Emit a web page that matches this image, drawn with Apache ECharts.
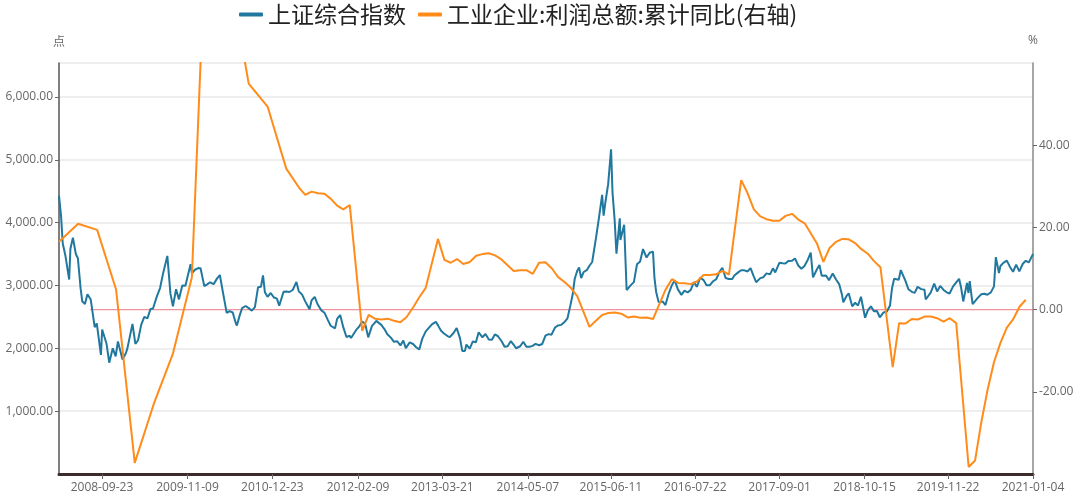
<!DOCTYPE html>
<html><head><meta charset="utf-8">
<script src="https://cdn.jsdelivr.net/npm/echarts@6/dist/echarts.min.js"></script>
<style>html,body{margin:0;padding:0;background:#fff}#c{width:1080px;height:499px}</style>
</head><body><div id="c"></div>
<script>
// 上证综合指数 (semi-monthly readings)
const indexDates = [
'2008-02-29','2008-03-10','2008-03-18','2008-03-31','2008-04-08','2008-04-18','2008-04-24','2008-05-06','2008-05-20','2008-05-30','2008-06-12','2008-06-20','2008-07-03','2008-07-15','2008-07-31','2008-08-19','2008-08-29','2008-09-18','2008-09-24','2008-10-15','2008-10-28','2008-11-14','2008-11-28','2008-12-09','2008-12-31',
'2009-01-15','2009-01-23','2009-02-17','2009-03-03','2009-03-16','2009-03-31','2009-04-15','2009-04-30','2009-05-15','2009-05-27','2009-06-15','2009-06-30','2009-07-15','2009-08-04','2009-08-19','2009-08-31','2009-09-15','2009-09-29','2009-10-15','2009-10-30','2009-11-24','2009-11-30','2009-12-15','2009-12-31',
'2010-01-11','2010-01-29','2010-02-12','2010-02-26','2010-03-15','2010-03-31','2010-04-14','2010-04-30','2010-05-17','2010-05-31','2010-06-15','2010-06-30','2010-07-05','2010-07-19','2010-07-30','2010-08-16','2010-08-31','2010-09-15','2010-09-30','2010-10-15','2010-10-29','2010-11-08','2010-11-17','2010-11-30','2010-12-15','2010-12-31',
'2011-01-14','2011-01-25','2011-02-15','2011-02-28','2011-03-15','2011-03-31','2011-04-18','2011-04-29','2011-05-16','2011-05-31','2011-06-20','2011-06-30','2011-07-15','2011-07-29','2011-08-15','2011-08-31','2011-09-15','2011-09-30','2011-10-21','2011-10-31','2011-11-15','2011-11-30','2011-12-15','2011-12-30',
'2012-01-06','2012-01-31','2012-02-15','2012-02-29','2012-03-14','2012-03-29','2012-04-16','2012-04-27','2012-05-07','2012-05-31','2012-06-15','2012-06-29','2012-07-16','2012-07-31','2012-08-15','2012-08-31','2012-09-14','2012-09-26','2012-10-15','2012-10-31','2012-11-15','2012-11-30','2012-12-04','2012-12-14','2012-12-31',
'2013-01-15','2013-01-31','2013-02-18','2013-02-28','2013-03-15','2013-03-29','2013-04-15','2013-04-26','2013-05-15','2013-05-29','2013-06-14','2013-06-25','2013-07-08','2013-07-15','2013-07-31','2013-08-15','2013-08-30','2013-09-12','2013-09-30','2013-10-15','2013-10-31','2013-11-15','2013-11-29','2013-12-13','2013-12-31',
'2014-01-15','2014-01-30','2014-02-14','2014-02-28','2014-03-11','2014-03-31','2014-04-15','2014-04-30','2014-05-15','2014-05-30','2014-06-13','2014-06-30','2014-07-15','2014-07-31','2014-08-15','2014-08-29','2014-09-15','2014-09-30','2014-10-15','2014-10-31','2014-11-14','2014-11-28','2014-12-09','2014-12-19','2014-12-31',
'2015-01-09','2015-01-19','2015-01-30','2015-02-16','2015-02-27','2015-03-13','2015-03-31','2015-04-15','2015-04-30','2015-05-07','2015-05-15','2015-05-29','2015-06-12','2015-06-19','2015-06-29','2015-07-08','2015-07-24','2015-07-27','2015-08-14','2015-08-26','2015-09-15','2015-09-30','2015-10-15','2015-10-30','2015-11-13','2015-11-30','2015-12-15','2015-12-31',
'2016-01-07','2016-01-15','2016-01-27','2016-02-15','2016-02-29','2016-03-15','2016-03-31','2016-04-14','2016-04-29','2016-05-16','2016-05-31','2016-06-15','2016-06-30','2016-07-15','2016-07-29','2016-08-15','2016-08-31','2016-09-14','2016-09-30','2016-10-14','2016-10-31','2016-11-14','2016-11-29','2016-12-15','2016-12-30',
'2017-01-16','2017-01-26','2017-02-15','2017-02-28','2017-03-15','2017-03-31','2017-04-14','2017-04-28','2017-05-11','2017-05-31','2017-06-15','2017-06-30','2017-07-17','2017-07-31','2017-08-11','2017-08-31','2017-09-15','2017-09-29','2017-10-13','2017-10-31','2017-11-14','2017-11-30','2017-12-15','2017-12-29',
'2018-01-15','2018-01-29','2018-02-09','2018-02-28','2018-03-12','2018-03-23','2018-04-13','2018-04-27','2018-05-15','2018-05-31','2018-06-15','2018-06-29','2018-07-05','2018-07-20','2018-07-31','2018-08-17','2018-08-31','2018-09-14','2018-09-28','2018-10-18','2018-10-31','2018-11-15','2018-11-30','2018-12-14','2018-12-28',
'2019-01-03','2019-01-15','2019-01-31','2019-02-15','2019-02-25','2019-03-07','2019-03-29','2019-04-08','2019-04-30','2019-05-15','2019-05-31','2019-06-14','2019-06-28','2019-07-15','2019-07-31','2019-08-06','2019-08-30','2019-09-16','2019-09-30','2019-10-15','2019-10-31','2019-11-15','2019-11-29','2019-12-16','2019-12-31',
'2020-01-14','2020-01-23','2020-02-03','2020-02-21','2020-02-28','2020-03-05','2020-03-19','2020-03-31','2020-04-15','2020-04-30','2020-05-15','2020-05-29','2020-06-15','2020-06-30','2020-07-09','2020-07-24','2020-07-31','2020-08-14','2020-08-31','2020-09-15','2020-09-30','2020-10-15','2020-10-30','2020-11-16','2020-11-30','2020-12-15','2020-12-31','2021-01-04'
];
const indexValues = [
4430,4100,3668,3472,3500,3094,3583,3761,3500,3433,2957,2748,2705,2860,2776,2336,2397,1895,2300,2073,1771,2000,1871,2110,1821,
1913,1991,2389,2071,2128,2373,2500,2477,2626,2633,2830,2959,3200,3471,2870,2667,2940,2779,3000,2996,3338,3195,3250,3277,
3273,2989,3018,3051,3020,3109,3166,2871,2564,2593,2570,2398,2363,2528,2638,2673,2639,2600,2656,2971,2979,3159,2894,2820,2880,2808,
2791,2677,2900,2905,2896,2928,3057,2911,2850,2743,2621,2762,2820,2701,2608,2567,2460,2359,2317,2468,2530,2333,2180,2199,
2163,2292,2350,2428,2391,2174,2357,2396,2437,2373,2306,2225,2170,2103,2113,2047,2123,2004,2094,2069,2018,1980,1959,2150,2269,
2325,2385,2421,2365,2278,2236,2195,2177,2248,2324,2162,1959,1959,2060,1994,2109,2098,2256,2175,2227,2141,2135,2220,2196,2116,
2026,2033,2115,2056,2001,2033,2105,2026,2025,2039,2070,2048,2068,2202,2226,2217,2331,2364,2373,2420,2478,2683,2856,3108,3235,
3285,3116,3210,3247,3310,3373,3748,4084,4442,4112,4308,4612,5166,4478,4053,3507,4070,3725,3965,2927,3005,3053,3338,3383,3580,3445,3520,3539,
3125,2901,2735,2746,2688,2864,3004,3082,2938,2850,2917,2888,2930,3054,2979,3125,3085,3002,3005,3063,3100,3210,3282,3118,3104,
3103,3159,3212,3242,3241,3223,3276,3155,3052,3117,3132,3192,3176,3273,3208,3361,3353,3349,3391,3393,3430,3317,3266,3307,
3410,3523,3129,3259,3326,3153,3159,3082,3192,3095,3022,2847,2733,2829,2876,2669,2725,2682,2821,2486,2603,2668,2588,2594,2494,
2464,2571,2585,2682,2961,3106,3091,3245,3078,2939,2899,2882,2979,2942,2933,2777,2886,3031,2905,2992,2929,2891,2872,2985,3050,
3106,2977,2746,3039,2880,3071,2702,2750,2811,2860,2868,2852,2890,2985,3451,3197,3310,3360,3396,3295,3218,3332,3225,3346,3392,3367,3473,3502
];
// 工业企业:利润总额:累计同比 (%)
const profitDates = [
'2008-02-29','2008-05-31','2008-08-31','2008-11-30','2009-02-28','2009-05-31','2009-08-31','2009-11-30','2010-02-28','2010-05-31','2010-08-31','2010-11-30',
'2011-02-28','2011-04-30','2011-05-31','2011-06-30','2011-07-31','2011-08-31','2011-09-30','2011-10-31','2011-11-30','2011-12-31',
'2012-02-29','2012-03-31','2012-04-30','2012-05-31','2012-06-30','2012-07-31','2012-08-31','2012-09-30','2012-10-31','2012-11-30','2012-12-31',
'2013-02-28','2013-03-31','2013-04-30','2013-05-31','2013-06-30','2013-07-31','2013-08-31','2013-09-30','2013-10-31','2013-11-30','2013-12-31',
'2014-02-28','2014-03-31','2014-04-30','2014-05-31','2014-06-30','2014-07-31','2014-08-31','2014-09-30','2014-10-31','2014-11-30','2014-12-31',
'2015-02-28','2015-03-31','2015-04-30','2015-05-31','2015-06-30','2015-07-31','2015-08-31','2015-09-30','2015-10-31','2015-11-30','2015-12-31',
'2016-02-29','2016-03-31','2016-04-30','2016-05-31','2016-06-30','2016-07-31','2016-08-31','2016-09-30','2016-10-31','2016-11-30','2016-12-31',
'2017-02-28','2017-03-31','2017-04-30','2017-05-31','2017-06-30','2017-07-31','2017-08-31','2017-09-30','2017-10-31','2017-11-30','2017-12-31',
'2018-02-28','2018-03-31','2018-04-30','2018-05-31','2018-06-30','2018-07-31','2018-08-31','2018-09-30','2018-10-31','2018-11-30','2018-12-31',
'2019-02-28','2019-03-31','2019-04-30','2019-05-31','2019-06-30','2019-07-31','2019-08-31','2019-09-30','2019-10-31','2019-11-30','2019-12-31',
'2020-02-29','2020-03-31','2020-04-30','2020-05-31','2020-06-30','2020-07-31','2020-08-31','2020-09-30','2020-10-31','2020-11-30'
];
const profitValues = [
16.5,20.9,19.4,4.9,-37.3,-22.9,-10.7,7.8,119.7,81.6,55.0,49.4,
34.3,29.7,27.9,28.7,28.3,28.2,27.0,25.3,24.4,25.4,
-5.2,-1.3,-2.2,-2.4,-2.2,-2.7,-3.1,-1.8,0.5,3.0,5.3,
17.2,12.1,11.4,12.3,11.1,11.6,13.1,13.5,13.7,13.2,12.2,
9.4,9.6,9.6,8.7,11.4,11.5,10.0,7.9,6.7,5.3,3.3,
-4.2,-2.7,-1.3,-0.8,-0.7,-1.0,-1.9,-1.7,-2.0,-1.9,-2.3,
4.8,7.4,6.5,6.4,6.2,6.9,8.4,8.4,8.6,9.4,8.5,
31.5,28.3,24.4,22.7,22.0,21.6,21.6,22.8,23.3,21.9,21.0,
16.1,11.6,15.0,16.5,17.2,17.1,16.2,14.7,13.6,11.8,10.3,
-14.0,-3.3,-3.4,-2.3,-2.4,-1.7,-1.7,-2.1,-2.9,-2.1,-3.3,
-38.3,-36.7,-27.4,-19.3,-12.8,-8.1,-4.4,-2.4,0.7,2.4
];
const xTickLabels = ['2008-09-23','2009-11-09','2010-12-23','2012-02-09','2013-03-21','2014-05-07','2015-06-11','2016-07-22','2017-09-01','2018-10-15','2019-11-22','2021-01-04'];
const seriesNames = ['上证综合指数','工业企业:利润总额:累计同比(右轴)'];
const zeroLineDates = ['2008-07-28','2021-01-04'];
const zeroLineValues = [0,0];

function ts(s){const p=s.split('-');return Date.UTC(+p[0],+p[1]-1,+p[2]);}
function fmt(v){const d=new Date(v);const p=n=>(n<10?'0':'')+n;return d.getUTCFullYear()+'-'+p(d.getUTCMonth()+1)+'-'+p(d.getUTCDate());}
const tickTs = xTickLabels.map(ts);

const chart = echarts.init(document.getElementById('c'));
chart.setOption({
  animation:false,
  backgroundColor:'#fff',
  color:['#21789f','#ff8c1a','#ec6f7c'],
  legend:{
    top:-2,left:234,itemWidth:24,itemHeight:4,itemGap:12,icon:'roundRect',
    textStyle:{fontSize:23,color:'#222',fontFamily:'Noto Sans CJK SC'},
    data:seriesNames
  },
  grid:{left:59,right:47,top:63,bottom:25},
  xAxis:{
    type:'value',min:ts('2008-02-29'),max:ts('2021-01-04'),
    axisLine:{onZero:false,lineStyle:{color:'#3b2b2b',width:3}},
    axisTick:{show:true,customValues:tickTs,length:5,lineStyle:{color:'#666'}},
    axisLabel:{customValues:tickTs,color:'#666',fontSize:12,fontFamily:'Open Sans',margin:8,formatter:fmt},
    splitLine:{show:false}
  },
  yAxis:[{
    type:'value',min:0,max:6540,interval:1000,name:'点',nameLocation:'end',nameGap:16,
    nameTextStyle:{color:'#666',fontSize:12,fontFamily:'Noto Sans CJK SC'},
    axisLine:{show:true,onZero:false,lineStyle:{color:'#555',width:1.5}},
    axisTick:{show:true,length:4,lineStyle:{color:'#666'}},
    axisLabel:{showMinLabel:false,showMaxLabel:false,color:'#666',fontSize:12,fontFamily:'Open Sans',margin:6,
      formatter:function(v){return v.toLocaleString('en-US',{minimumFractionDigits:2,maximumFractionDigits:2});}},
    splitLine:{show:true,lineStyle:{color:'#e8e8e8',width:1.5}}
  },{
    type:'value',min:-40,max:60,interval:20,name:'%',nameLocation:'end',nameGap:16,
    nameTextStyle:{color:'#666',fontSize:12,fontFamily:'Open Sans'},
    axisLine:{show:true,onZero:false,lineStyle:{color:'#888',width:1.5}},
    axisTick:{show:true,length:4,lineStyle:{color:'#666'}},
    axisLabel:{showMinLabel:false,showMaxLabel:false,color:'#666',fontSize:12,fontFamily:'Open Sans',margin:6,
      formatter:function(v){return v.toFixed(2);}},
    splitLine:{show:false}
  }],
  series:[{
    name:'零线',type:'line',yAxisIndex:1,showSymbol:false,z:3,silent:true,
    lineStyle:{width:1.3,color:'#ec6f7c',opacity:0.75},
    data:zeroLineDates.map((d,i)=>[ts(d),zeroLineValues[i]])
  },{
    name:seriesNames[0],type:'line',yAxisIndex:0,showSymbol:false,z:6,
    lineStyle:{width:2,color:'#21789f'},itemStyle:{color:'#21789f'},
    data:indexDates.map((d,i)=>[ts(d),indexValues[i]])
  },{
    name:seriesNames[1],type:'line',yAxisIndex:1,showSymbol:false,z:7,
    lineStyle:{width:2,color:'#ff8c1a'},itemStyle:{color:'#ff8c1a'},
    data:profitDates.map((d,i)=>[ts(d),profitValues[i]])
  }]
});
</script>
</body></html>
